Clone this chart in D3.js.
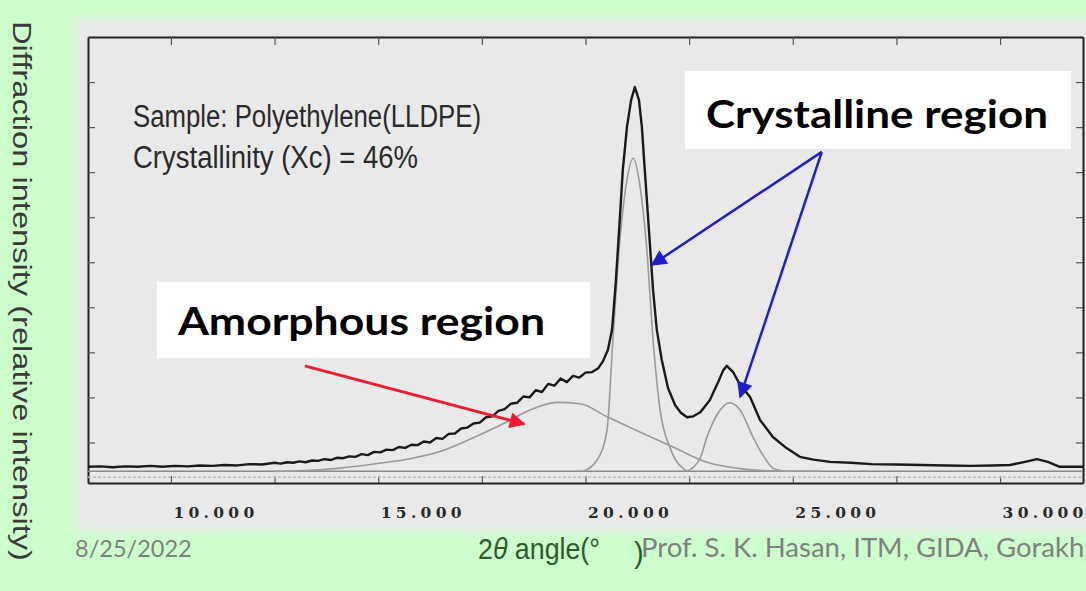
<!DOCTYPE html>
<html>
<head>
<meta charset="utf-8">
<script src="https://cdn.jsdelivr.net/npm/d3@7"></script>
<style>
  html, body { margin: 0; padding: 0; background: #ccffcc; overflow: hidden; }
  svg { display: block; }
</style>
</head>
<body>
<svg id="chart" width="1086" height="591"></svg>
<script>
// 2-theta (deg) vs diffraction intensity
var xTicks = [10, 12.5, 15, 17.5, 20, 22.5, 25, 27.5, 30];
var yTicks = [1, 2, 3, 4, 5, 6, 7, 8, 9];

// measured pattern (black)
var observed = [
  [8.00,0.46],[8.3,0.47],[8.6,0.45],[8.9,0.47],[9.2,0.46],[9.5,0.48],[9.8,0.46],[10.1,0.48],
  [10.4,0.47],[10.7,0.49],[11.0,0.48],[11.3,0.50],[11.6,0.49],[11.9,0.52],[12.2,0.51],
  [12.50,0.55],[12.65,0.53],[12.80,0.56],[12.95,0.55],[13.10,0.58],[13.25,0.56],[13.40,0.60],
  [13.55,0.59],[13.70,0.63],[13.85,0.61],[14.00,0.66],[14.15,0.65],[14.30,0.69],[14.45,0.68],
  [14.60,0.74],[14.75,0.72],[14.90,0.79],[15.05,0.78],[15.20,0.84],[15.35,0.83],[15.50,0.90],
  [15.65,0.88],[15.80,0.95],[15.95,0.94],[16.10,1.02],[16.25,1.00],[16.40,1.10],[16.55,1.08],
  [16.70,1.19],[16.85,1.20],[17.00,1.31],[17.15,1.33],[17.30,1.42],[17.45,1.44],[17.60,1.56],
  [17.75,1.58],[17.90,1.70],[18.05,1.74],[18.20,1.86],[18.35,1.88],[18.50,2.02],[18.65,2.00],
  [18.80,2.16],[18.95,2.12],[19.10,2.30],[19.25,2.26],[19.40,2.42],[19.55,2.34],[19.70,2.48],
  [19.85,2.44],[20.00,2.55],[20.15,2.56],[20.30,2.64],[20.42,2.80],[20.54,3.05],[20.64,3.50],
  [20.73,4.55],[20.83,6.00],[20.90,7.05],[21.0,8.0],[21.1,8.6],[21.19,8.89],[21.29,8.6],
  [21.36,8.0],[21.43,7.05],[21.53,5.72],[21.63,4.38],[21.72,3.5],[21.84,2.83],[21.99,2.21],
  [22.16,1.83],[22.30,1.66],[22.45,1.56],[22.60,1.58],[22.77,1.67],[23.0,1.94],[23.2,2.34],
  [23.32,2.60],[23.41,2.70],[23.56,2.56],[23.73,2.28],[23.97,2.01],[24.21,1.50],[24.52,1.12],
  [24.84,0.88],[25.17,0.68],[25.5,0.62],[25.9,0.57],[26.4,0.55],[26.9,0.52],[27.5,0.51],
  [28.1,0.50],[28.7,0.49],[29.3,0.48],[29.8,0.49],[30.24,0.50],[30.6,0.57],[30.89,0.63],
  [31.15,0.57],[31.44,0.46],[32.0,0.46]
];

// fitted components (grey)
var amorphous = [
  [12.5,0.36],[13.11,0.37],[14.08,0.43],[15.04,0.54],[15.77,0.64],[16.49,0.80],[17.21,1.07],
  [18.11,1.46],[18.66,1.72],[19.31,1.89],[19.87,1.86],[20.52,1.57],[21.31,1.23],[22.11,0.90],
  [22.93,0.56],[23.73,0.42],[24.52,0.37],[25.66,0.36]
];
var peak110 = [
  [19.94,0.36],[20.28,0.61],[20.52,1.28],[20.66,3.27],[20.83,5.49],[21.0,6.83],[21.15,7.31],
  [21.31,6.72],[21.48,5.27],[21.63,3.27],[21.80,1.72],[22.04,0.88],[22.45,0.36]
];
var peak200 = [
  [22.45,0.36],[22.77,0.66],[22.93,1.12],[23.17,1.61],[23.48,1.88],[23.73,1.72],[24.04,1.12],
  [24.28,0.72],[24.52,0.43],[24.81,0.36]
];
var baseline = [[8, 0.36], [32, 0.36]];
var floorLine = [[8, 0.23], [32, 0.23]];

// annotation arrows: [from, to] in data units
var crystArrows = [[[25.70, 7.45], [21.60, 4.94]], [[25.70, 7.45], [23.73, 2.01]]];
var amorArrow = [[13.23, 2.70], [18.52, 1.41]];

var svg = d3.select("#chart");

var x = d3.scaleLinear().domain([8, 32]).range([88, 1083]);
var y = d3.scaleLinear().domain([0.1, 10]).range([483, 37]);

var defs = svg.append("defs");
defs.append("filter").attr("id", "soft")
    .attr("x", "-5%").attr("y", "-5%").attr("width", "110%").attr("height", "110%")
  .append("feGaussianBlur").attr("stdDeviation", 5);

function marker(id, color) {
  defs.append("marker")
      .attr("id", id)
      .attr("viewBox", "0 0 10 10")
      .attr("refX", 9).attr("refY", 5)
      .attr("markerUnits", "userSpaceOnUse")
      .attr("markerWidth", 20).attr("markerHeight", 16)
      .attr("orient", "auto")
    .append("path")
      .attr("d", "M0,0L10,5L0,10z")
      .attr("fill", color);
}
marker("headBlue", "#1f1fc8");
marker("headRed", "#ee1c30");

// grey scan panel
svg.append("rect")
    .attr("x", 76).attr("y", 18).attr("width", 1040).attr("height", 514)
    .attr("fill", "#e9e9e9")
    .attr("filter", "url(#soft)");

// axes (ticks pointing inward)
function styleAxis(g) {
  g.select(".domain").attr("stroke", "#222").attr("stroke-width", 2);
  g.selectAll(".tick line").attr("stroke", "#555").attr("stroke-width", 1.2);
}

svg.append("g")
    .attr("transform", "translate(0,483)")
    .call(d3.axisBottom(x).tickValues(xTicks).tickSize(-7).tickSizeOuter(0)
      .tickFormat(function(d) { return d % 5 === 0 ? d3.format(".3f")(d) : ""; }))
    .call(styleAxis)
    .call(function(g) {
      g.selectAll(".tick text")
        .attr("text-anchor", "start")
        .attr("x", 2).attr("y", 24)
        .attr("fill", "#2a2a2a")
        .style("font-family", "'DejaVu Serif', serif")
        .style("font-weight", "bold")
        .style("font-size", "15.5px")
        .style("letter-spacing", "4.3px");
    });

svg.append("g")
    .attr("transform", "translate(0,37)")
    .call(d3.axisTop(x).tickValues(xTicks).tickSize(-8).tickSizeOuter(0).tickFormat(""))
    .call(styleAxis);

svg.append("g")
    .attr("transform", "translate(88,0)")
    .call(d3.axisLeft(y).tickValues(yTicks).tickSize(-7).tickSizeOuter(0).tickFormat(""))
    .call(styleAxis);

svg.append("g")
    .attr("transform", "translate(1083,0)")
    .call(d3.axisRight(y).tickValues(yTicks).tickSize(-7).tickSizeOuter(0).tickFormat(""))
    .call(styleAxis);

// curves
var smooth = d3.line().x(function(d) { return x(d[0]); }).y(function(d) { return y(d[1]); })
    .curve(d3.curveMonotoneX);
var raw = d3.line().x(function(d) { return x(d[0]); }).y(function(d) { return y(d[1]); });

svg.append("path").datum(floorLine)
    .attr("d", raw).attr("fill", "none").attr("stroke", "#bdbdbd").attr("stroke-width", 1.5)
    .attr("stroke-dasharray", "3,2");
svg.append("path").datum(baseline)
    .attr("d", raw).attr("fill", "none").attr("stroke", "#8a8a8a").attr("stroke-width", 1.6);

[amorphous, peak110, peak200].forEach(function(s) {
  svg.append("path").datum(s)
      .attr("d", smooth)
      .attr("fill", "none")
      .attr("stroke", "#9a9a9a")
      .attr("stroke-width", 1.6);
});

svg.append("path").datum(observed)
    .attr("d", raw)
    .attr("fill", "none")
    .attr("stroke", "#1a1a1a")
    .attr("stroke-width", 2.4)
    .attr("stroke-linejoin", "round");

// sample text
var condensed = "'Liberation Sans Narrow', 'Liberation Sans', Arial, sans-serif";
svg.append("text")
    .attr("x", 133).attr("y", 127)
    .attr("textLength", 348).attr("lengthAdjust", "spacingAndGlyphs")
    .style("font-family", condensed)
    .style("font-size", "31px").attr("fill", "#2a2a2a")
    .text("Sample: Polyethylene(LLDPE)");
svg.append("text")
    .attr("x", 133).attr("y", 168)
    .attr("textLength", 285).attr("lengthAdjust", "spacingAndGlyphs")
    .style("font-family", condensed)
    .style("font-size", "31px").attr("fill", "#2a2a2a")
    .text("Crystallinity (Xc) = 46%");

// call-out boxes
function callout(x0, y0, w, h, tx, ty, tw, label) {
  svg.append("rect").attr("x", x0).attr("y", y0).attr("width", w).attr("height", h).attr("fill", "#fff");
  svg.append("text")
      .attr("x", tx).attr("y", ty)
      .attr("textLength", tw).attr("lengthAdjust", "spacingAndGlyphs")
      .style("font-family", "Lato, 'Open Sans', sans-serif")
      .style("font-weight", "bold")
      .style("font-size", "39px")
      .attr("fill", "#000")
      .text(label);
}
callout(685, 71, 386, 78, 706, 128, 342, "Crystalline region");
callout(157, 282, 433, 76, 178, 335, 367, "Amorphous region");

// arrows
crystArrows.forEach(function(a) {
  svg.append("line")
      .attr("x1", x(a[0][0])).attr("y1", y(a[0][1]))
      .attr("x2", x(a[1][0])).attr("y2", y(a[1][1]))
      .attr("stroke", "#1f1fc8").attr("stroke-width", 2.5)
      .attr("marker-end", "url(#headBlue)");
});
svg.append("line")
    .attr("x1", x(amorArrow[0][0])).attr("y1", y(amorArrow[0][1]))
    .attr("x2", x(amorArrow[1][0])).attr("y2", y(amorArrow[1][1]))
    .attr("stroke", "#ee1c30").attr("stroke-width", 3)
    .attr("marker-end", "url(#headRed)");

// axis titles
svg.append("text")
    .attr("transform", "translate(13,21) rotate(90)")
    .attr("textLength", 540).attr("lengthAdjust", "spacingAndGlyphs")
    .style("font-family", condensed)
    .style("font-size", "25px").attr("fill", "#3a3a3a")
    .text("Diffraction intensity (relative intensity)");

var xt = svg.append("text")
    .attr("x", 478).attr("y", 559)
    .attr("textLength", 122).attr("lengthAdjust", "spacingAndGlyphs")
    .style("font-family", condensed)
    .style("font-size", "29px").attr("fill", "#2d5a2d");
xt.append("tspan").text("2");
xt.append("tspan").style("font-style", "italic").text("θ");
xt.append("tspan").text(" angle(°");
svg.append("text")
    .attr("x", 634).attr("y", 563)
    .style("font-family", condensed)
    .style("font-size", "29px").attr("fill", "#2d5a2d")
    .text(")");

// slide footer
svg.append("text")
    .attr("x", 75).attr("y", 557)
    .style("font-family", "Lato, 'Open Sans', sans-serif")
    .style("font-size", "23.5px").attr("fill", "#808080")
    .text("8/25/2022");
svg.append("text")
    .attr("x", 641).attr("y", 557)
    .style("font-family", "Lato, 'Open Sans', sans-serif")
    .style("font-size", "27.5px").attr("fill", "#808080")
    .text("Prof. S. K. Hasan, ITM, GIDA, Gorakhpur");
</script>
</body>
</html>
